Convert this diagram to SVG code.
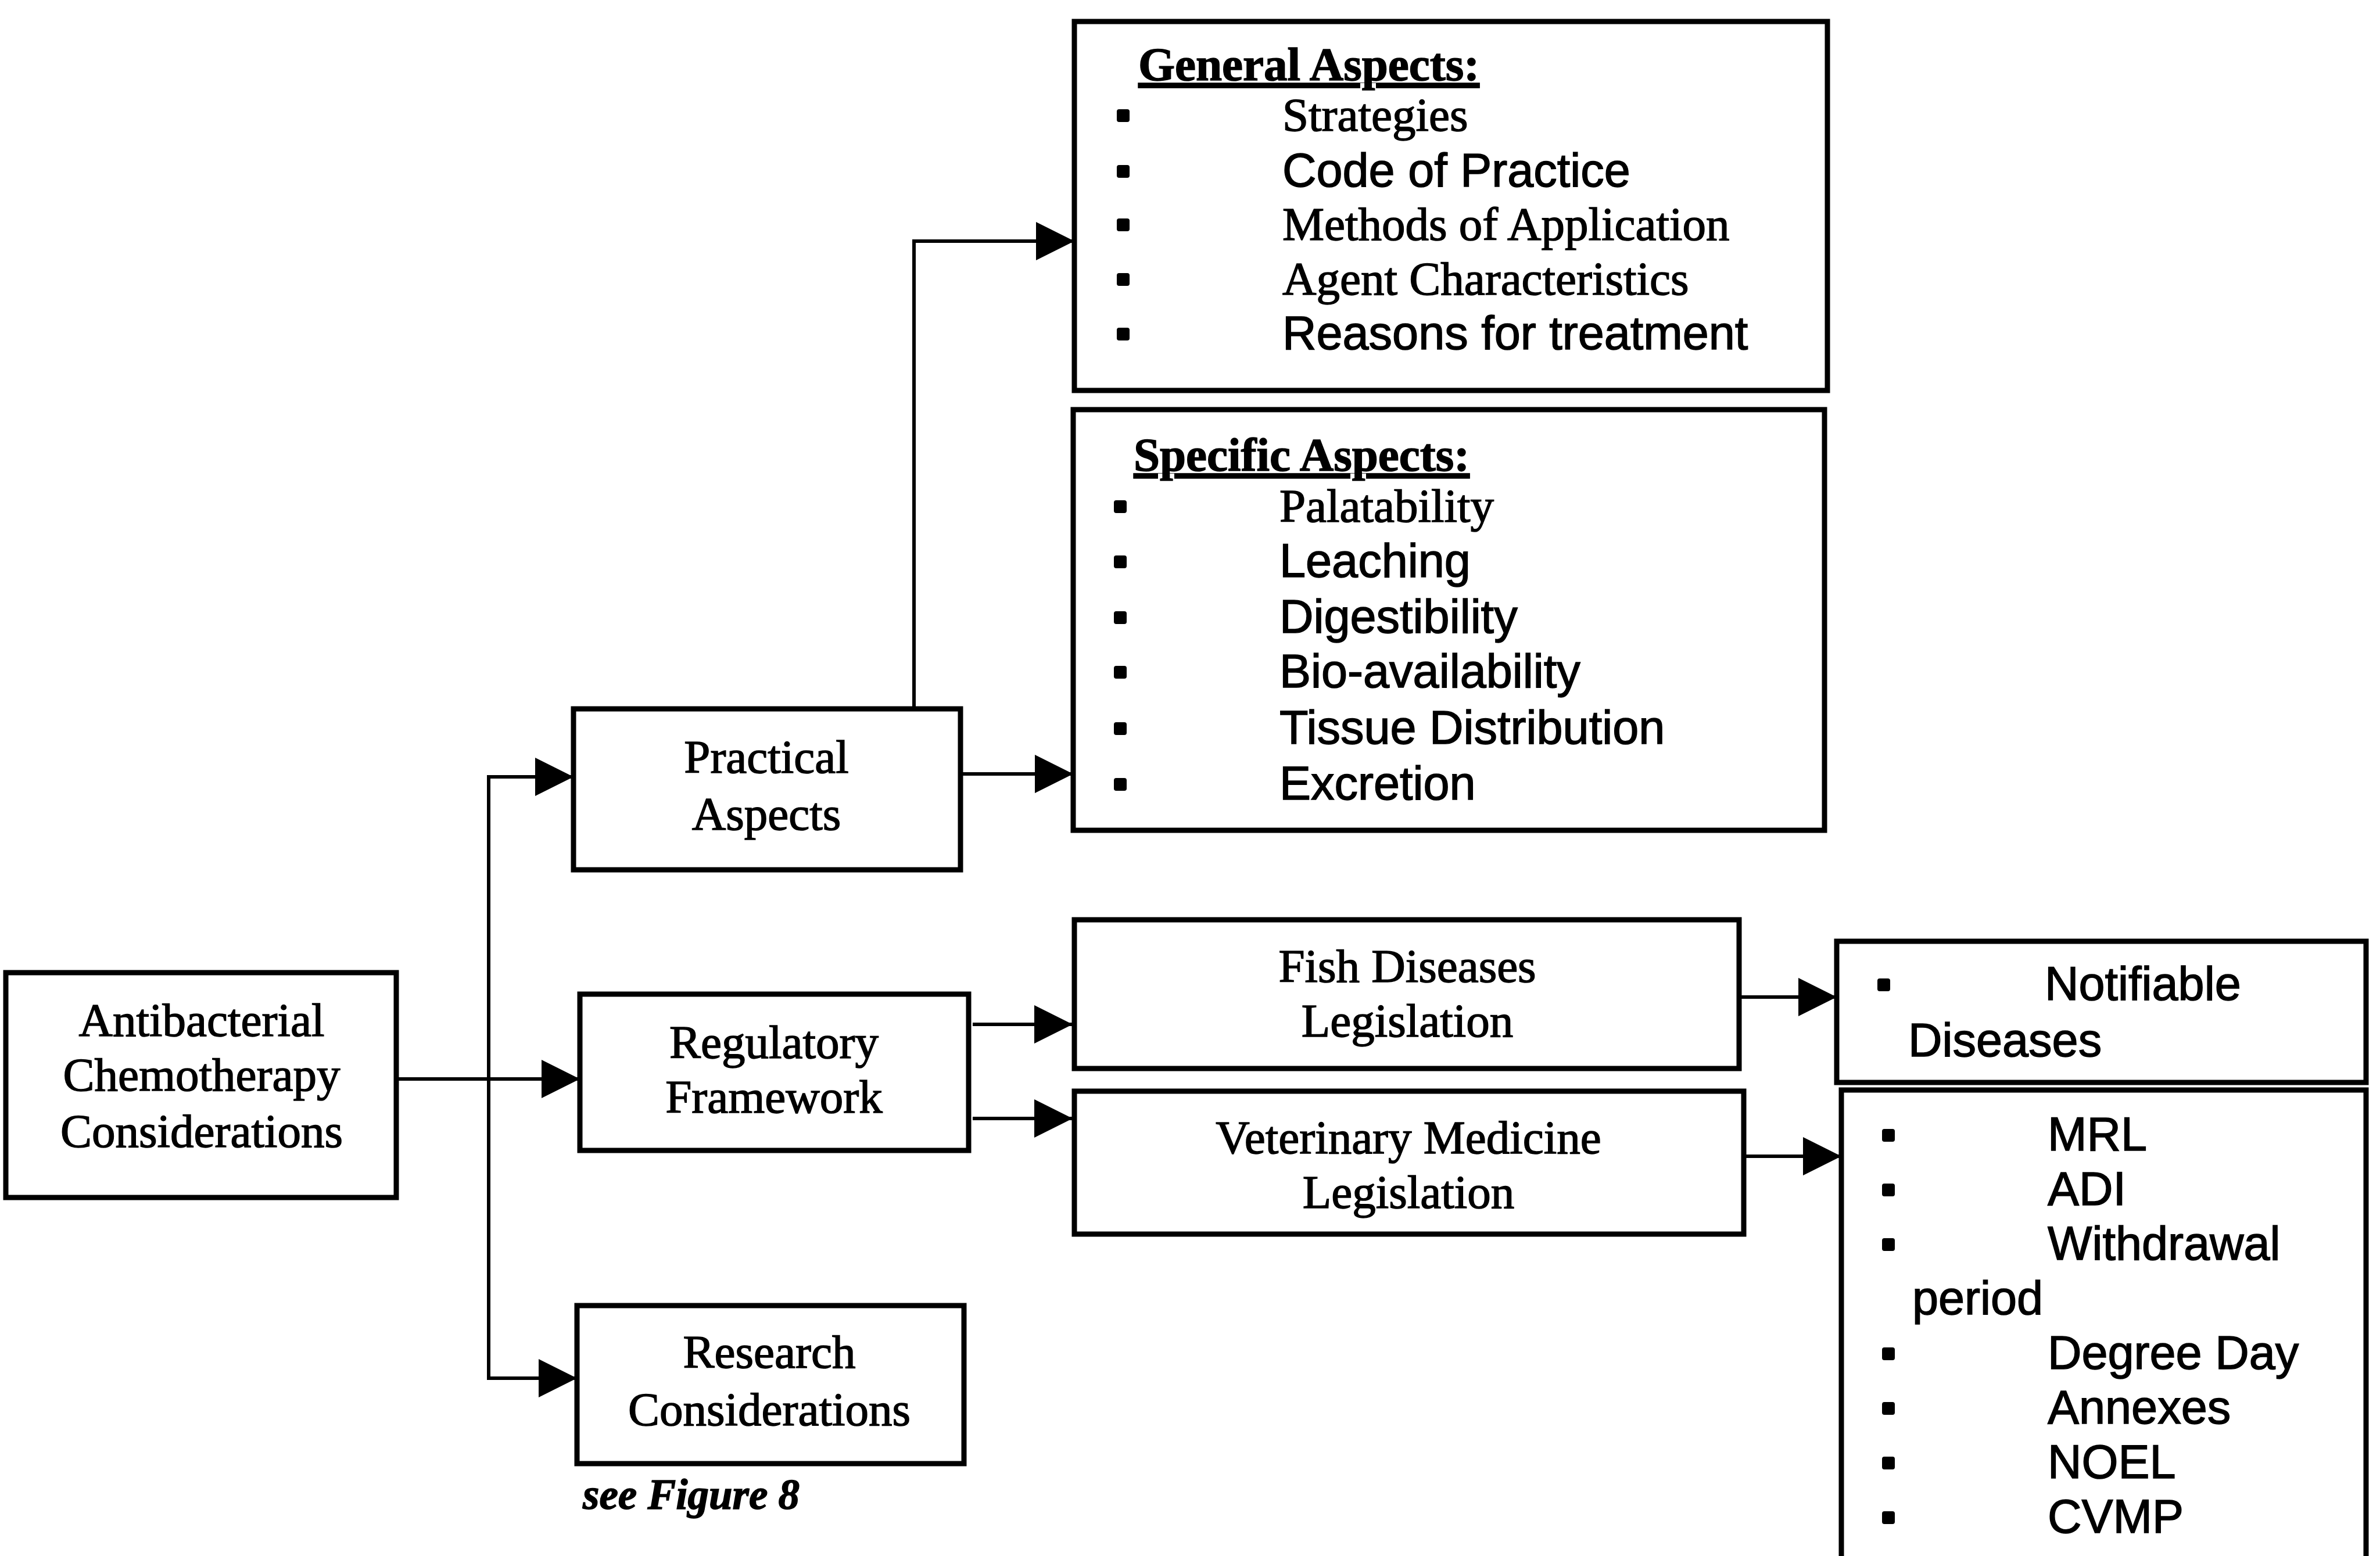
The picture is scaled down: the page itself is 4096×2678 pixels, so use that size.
<svg xmlns="http://www.w3.org/2000/svg" width="4096" height="2678" viewBox="0 0 4096 2678">
<style>
.box{fill:#fff;stroke:#000;stroke-width:9}
.ser{font-family:"Liberation Serif","Times New Roman",serif;font-size:81px;fill:#000;stroke:#000;stroke-width:1.5}
.sans{font-family:"Liberation Sans",Arial,sans-serif;font-size:81px;fill:#000;stroke:#000;stroke-width:1.5}
.c{text-anchor:middle}
.ttl{font-weight:bold;text-decoration:underline}
.it{font-style:italic;font-weight:bold;font-size:73px}
.bul{fill:#000}
.con{fill:none;stroke:#000;stroke-width:6}
</style>
<defs>
<marker id="arr" markerUnits="userSpaceOnUse" markerWidth="66" markerHeight="66" refX="66" refY="33" orient="auto">
<path d="M0,0 L66,33 L0,66 z" fill="#000"/>
</marker>
</defs>
<rect width="4096" height="2678" fill="#fff"/>

<g id="connectors">
<line class="con" x1="841" y1="1337" x2="841" y2="2372"/>
<line class="con" x1="682" y1="1857" x2="998" y2="1857" marker-end="url(#arr)"/>
<line class="con" x1="838" y1="1337" x2="987" y2="1337" marker-end="url(#arr)"/>
<line class="con" x1="838" y1="2372" x2="993" y2="2372" marker-end="url(#arr)"/>
<polyline class="con" points="1573,1220 1573,415 1849,415" marker-end="url(#arr)"/>
<line class="con" x1="1654" y1="1332" x2="1847" y2="1332" marker-end="url(#arr)"/>
<line class="con" x1="1674" y1="1763" x2="1846" y2="1763" marker-end="url(#arr)"/>
<line class="con" x1="1674" y1="1925" x2="1846" y2="1925" marker-end="url(#arr)"/>
<line class="con" x1="2994" y1="1716" x2="3161" y2="1716" marker-end="url(#arr)"/>
<line class="con" x1="3001" y1="1990" x2="3169" y2="1990" marker-end="url(#arr)"/>
</g>

<g id="antibacterial">
<rect class="box" x="10" y="1674" width="672" height="387"/>
<text class="ser c" x="347" y="1783">Antibacterial</text>
<text class="ser c" x="347" y="1877">Chemotherapy</text>
<text class="ser c" x="347" y="1974">Considerations</text>
</g>

<g id="practical">
<rect class="box" x="987" y="1220" width="666" height="277"/>
<text class="ser c" x="1319" y="1330">Practical</text>
<text class="ser c" x="1319" y="1428">Aspects</text>
</g>

<g id="regulatory">
<rect class="box" x="998" y="1711" width="669" height="269"/>
<text class="ser c" x="1332" y="1821">Regulatory</text>
<text class="ser c" x="1332" y="1915">Framework</text>
</g>

<g id="research">
<rect class="box" x="993" y="2247" width="666" height="272"/>
<text class="ser c" x="1324" y="2354">Research</text>
<text class="ser c" x="1324" y="2453">Considerations</text>
<text class="ser it" x="1003" y="2597">see Figure 8</text>
</g>

<g id="general">
<rect class="box" x="1849" y="37" width="1296" height="635"/>
<text class="ser ttl" x="1959" y="138">General Aspects:</text>
<rect class="bul" x="1922" y="188" width="22" height="22" rx="4"/>
<rect class="bul" x="1922" y="284" width="22" height="22" rx="4"/>
<rect class="bul" x="1922" y="376" width="22" height="22" rx="4"/>
<rect class="bul" x="1922" y="470" width="22" height="22" rx="4"/>
<rect class="bul" x="1922" y="564" width="22" height="22" rx="4"/>
<text class="ser" x="2207" y="225">Strategies</text>
<text class="sans" x="2207" y="321">Code of Practice</text>
<text class="ser" x="2207" y="413">Methods of Application</text>
<text class="ser" x="2207" y="507">Agent Characteristics</text>
<text class="sans" x="2207" y="601">Reasons for treatment</text>
</g>

<g id="specific">
<rect class="box" x="1847" y="705" width="1293" height="724"/>
<text class="ser ttl" x="1951" y="810">Specific Aspects:</text>
<rect class="bul" x="1917" y="861" width="22" height="22" rx="4"/>
<rect class="bul" x="1917" y="956" width="22" height="22" rx="4"/>
<rect class="bul" x="1917" y="1052" width="22" height="22" rx="4"/>
<rect class="bul" x="1917" y="1146" width="22" height="22" rx="4"/>
<rect class="bul" x="1917" y="1243" width="22" height="22" rx="4"/>
<rect class="bul" x="1917" y="1339" width="22" height="22" rx="4"/>
<text class="ser" x="2202" y="898">Palatability</text>
<text class="sans" x="2202" y="993">Leaching</text>
<text class="sans" x="2202" y="1089">Digestibility</text>
<text class="sans" x="2202" y="1183">Bio-availability</text>
<text class="sans" x="2202" y="1280">Tissue Distribution</text>
<text class="sans" x="2202" y="1376">Excretion</text>
</g>

<g id="fish">
<rect class="box" x="1849" y="1583" width="1144" height="256"/>
<text class="ser c" x="2422" y="1690">Fish Diseases</text>
<text class="ser c" x="2422" y="1784">Legislation</text>
</g>

<g id="veterinary">
<rect class="box" x="1849" y="1878" width="1152" height="246"/>
<text class="ser c" x="2424" y="1985">Veterinary Medicine</text>
<text class="ser c" x="2424" y="2079">Legislation</text>
</g>

<g id="notifiable">
<rect class="box" x="3161" y="1620" width="911" height="243"/>
<rect class="bul" x="3231" y="1684" width="22" height="22" rx="4"/>
<text class="sans" x="3519" y="1721">Notifiable</text>
<text class="sans" x="3284" y="1818">Diseases</text>
</g>

<g id="vetdetails">
<rect class="box" x="3169" y="1876" width="903" height="830"/>
<rect class="bul" x="3239" y="1943" width="22" height="22" rx="4"/>
<rect class="bul" x="3239" y="2037" width="22" height="22" rx="4"/>
<rect class="bul" x="3239" y="2131" width="22" height="22" rx="4"/>
<rect class="bul" x="3239" y="2319" width="22" height="22" rx="4"/>
<rect class="bul" x="3239" y="2413" width="22" height="22" rx="4"/>
<rect class="bul" x="3239" y="2507" width="22" height="22" rx="4"/>
<rect class="bul" x="3239" y="2601" width="22" height="22" rx="4"/>
<text class="sans" x="3524" y="1980">MRL</text>
<text class="sans" x="3524" y="2074">ADI</text>
<text class="sans" x="3524" y="2168">Withdrawal</text>
<text class="sans" x="3291" y="2262">period</text>
<text class="sans" x="3524" y="2356">Degree Day</text>
<text class="sans" x="3524" y="2450">Annexes</text>
<text class="sans" x="3524" y="2544">NOEL</text>
<text class="sans" x="3524" y="2638">CVMP</text>
</g>
</svg>
